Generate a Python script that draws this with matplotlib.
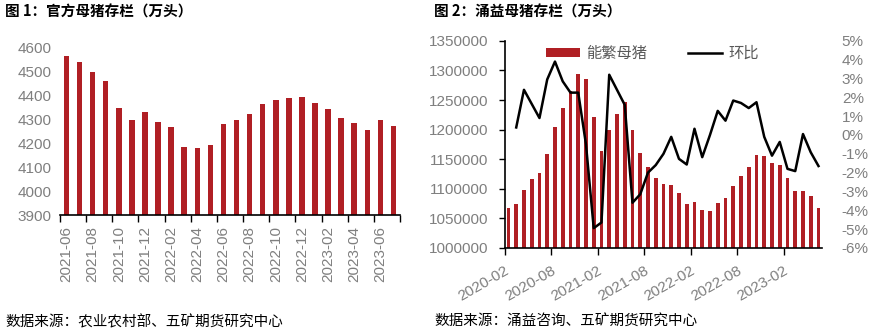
import matplotlib
matplotlib.use('Agg')
import matplotlib.pyplot as plt
import numpy as np

plt.rcParams['font.family'] = ['Liberation Sans', 'Noto Sans CJK SC']
plt.rcParams['axes.unicode_minus'] = False

# 图1 官方母猪存栏（万头）
meses1 = ['2021-06', '2021-07', '2021-08', '2021-09', '2021-10', '2021-11', '2021-12',
          '2022-01', '2022-02', '2022-03', '2022-04', '2022-05', '2022-06', '2022-07',
          '2022-08', '2022-09', '2022-10', '2022-11', '2022-12', '2023-01', '2023-02',
          '2023-03', '2023-04', '2023-05', '2023-06', '2023-07']
estoque1 = [4565, 4540, 4500, 4460, 4350, 4300, 4330, 4290, 4270, 4185, 4180, 4195, 4280,
            4300, 4325, 4365, 4380, 4390, 4395, 4370, 4345, 4305, 4285, 4255, 4300, 4275]

# 图2 涌益母猪存栏
rotulos2 = ['2020-02', '2020-08', '2021-02', '2021-08', '2022-02', '2022-08', '2023-02']
estoque2 = [1068000, 1073500, 1098000, 1116000, 1126000, 1158000, 1204000, 1237000,
            1265000, 1294000, 1285000, 1221000, 1164000, 1200000, 1227000, 1246000,
            1200000, 1161000, 1137000, 1119000, 1108000, 1106000, 1092000, 1075000,
            1078000, 1064000, 1063000, 1076000, 1084000, 1104000, 1122000, 1137000,
            1157000, 1156000, 1143000, 1140000, 1119000, 1097000, 1097000, 1087000, 1068000]
hb = [np.nan, 0.4, 2.4, 1.65, 0.9, 2.95, 3.9, 2.85, 2.25, 2.25, -0.5, -4.95, -4.65,
      3.2, 2.4, 1.6, -3.6, -3.15, -2.0, -1.6, -1.0, -0.1, -1.27, -1.57, 0.33, -1.18,
      0.0, 1.28, 0.76, 1.83, 1.7, 1.43, 1.74, -0.1, -1.1, -0.37, -1.8, -1.92, 0.05,
      -0.92, -1.65]

vermelho = '#B01F24'
cinza = '#7F7F7F'
tam = 11

fig = plt.figure(figsize=(8.73, 3.35), dpi=100)

# ---- grafico 1
ax1 = fig.add_axes([0.0687, 0.358, 0.3895, 0.499])
x1 = np.arange(len(meses1))
ax1.bar(x1, estoque1, width=0.42, color=vermelho)
ax1.set_ylim(3900, 4600)
ax1.set_yticks(range(3900, 4601, 100))
ax1.set_xlim(-0.5, len(meses1) - 0.5)
ax1.set_xticks(np.arange(-0.5, len(meses1), 2))
ax1.set_xticklabels([])
ax1.set_xticks(x1[::2], minor=True)
ax1.set_xticklabels(meses1[::2], minor=True, rotation=90, color=cinza, fontsize=tam)
ax1.tick_params(axis='x', which='minor', length=0, pad=8)
ax1.tick_params(axis='x', which='major', length=5, width=1, color='black')
ax1.tick_params(axis='y', length=0, labelcolor=cinza, labelsize=tam, pad=6)
for s in ['top', 'right', 'left']:
    ax1.spines[s].set_visible(False)
ax1.spines['bottom'].set_linewidth(1.2)

# ---- grafico 2
ax2 = fig.add_axes([0.578, 0.260, 0.364, 0.618])
x2 = np.arange(len(estoque2))
ax2.bar(x2, estoque2, width=0.5, color=vermelho, label='能繁母猪')
ax2.set_ylim(1000000, 1350000)
yt2 = list(range(1000000, 1350001, 50000))
ax2.set_yticks(yt2)
ax2.set_yticklabels([str(v) for v in yt2])
ax2.set_xlim(-0.5, len(estoque2) - 0.5)
ax2.set_xticks(np.arange(-0.5, len(estoque2), 6))
ax2.set_xticklabels(rotulos2, rotation=30, ha='right', rotation_mode='anchor',
                    color=cinza, fontsize=tam)
ax2.tick_params(axis='x', length=5, width=1, pad=6)
ax2.tick_params(axis='y', length=4, width=1, labelcolor=cinza, labelsize=tam, pad=8)
ax2.spines['top'].set_visible(False)
ax2.spines['right'].set_visible(False)
ax2.spines['left'].set_linewidth(1.2)
ax2.spines['bottom'].set_linewidth(1.2)

ax3 = ax2.twinx()
ax3.plot(x2, hb, color='black', lw=1.8, label='环比')
ax3.set_ylim(-6, 5)
ax3.set_yticks(range(-6, 6))
ax3.set_yticklabels([f'{v}%' for v in range(-6, 6)])
ax3.tick_params(axis='y', length=0, labelcolor=cinza, labelsize=tam, pad=14)
for s in ['top', 'right', 'left', 'bottom']:
    ax3.spines[s].set_visible(False)

h1, l1 = ax2.get_legend_handles_labels()
h2, l2 = ax3.get_legend_handles_labels()
leg = ax3.legend(h1 + h2, l1 + l2, loc='upper center', bbox_to_anchor=(0.465, 1.04),
                 ncol=2, frameon=False, fontsize=11, handlelength=2.2,
                 handleheight=0.5, columnspacing=2.7, handletextpad=0.4)
for t in leg.get_texts():
    t.set_color('#595959')

# titulos e fontes
fig.text(5 / 873, 1 - 12 / 335, '图 1：官方母猪存栏（万头）', fontsize=10.5, fontweight='bold',
         family=['Noto Sans CJK SC'], va='center', ha='left')
fig.text(434 / 873, 1 - 12 / 335, '图 2：涌益母猪存栏（万头）', fontsize=10.5, fontweight='bold',
         family=['Noto Sans CJK SC'], va='center', ha='left')
fig.text(5 / 873, 1 - 322 / 335, '数据来源：农业农村部、五矿期货研究中心', fontsize=10.5,
         family=['Noto Sans CJK SC'], va='center', ha='left')
fig.text(434 / 873, 1 - 322 / 335, '数据来源：涌益咨询、五矿期货研究中心', fontsize=10.5,
         family=['Noto Sans CJK SC'], va='center', ha='left')

fig.savefig('out.png', dpi=100)
